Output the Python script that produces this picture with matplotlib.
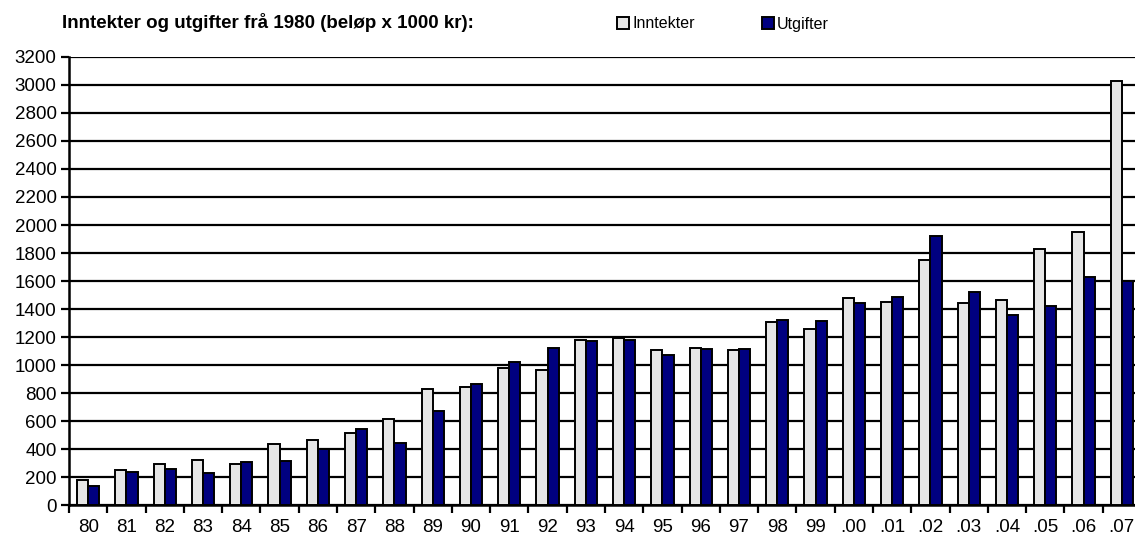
import matplotlib
matplotlib.use("Agg")
import matplotlib.pyplot as plt
import numpy as np

plt.rcParams["font.family"] = ["Liberation Sans", "DejaVu Sans"]

# ── data (beløp x 1000 kr) ────────────────────────────────────────────────────
years = ["80", "81", "82", "83", "84", "85", "86", "87", "88", "89",
         "90", "91", "92", "93", "94", "95", "96", "97", "98", "99",
         ".00", ".01", ".02", ".03", ".04", ".05", ".06", ".07"]
inntekter = [178, 252, 290, 319, 293, 436, 464, 517, 612, 826,
             843, 976, 962, 1179, 1195, 1105, 1124, 1110, 1310, 1255,
             1479, 1452, 1750, 1440, 1467, 1831, 1948, 3030]
utgifter = [136, 236, 260, 229, 305, 314, 402, 543, 440, 674,
            867, 1024, 1124, 1171, 1176, 1074, 1117, 1117, 1324, 1314,
            1445, 1483, 1921, 1521, 1357, 1424, 1631, 1600]

GREY = "#E6E6E6"
NAVY = "#000080"

W, H = 1135, 538
fig = plt.figure(figsize=(W / 100, H / 100), dpi=100)
# axes runs past the right edge, as in the original (last group is cut off)
ax = fig.add_axes([69 / W, 33 / H, (1141 - 69) / W, 448 / H])

x = np.arange(len(years))
bw = 0.29
b1 = ax.bar(x - bw / 2, inntekter, bw, color=GREY, edgecolor="black", lw=1.4,
            label="Inntekter", zorder=3)
b2 = ax.bar(x + bw / 2, utgifter, bw, color=NAVY, edgecolor="black", lw=1.4,
            label="Utgifter", zorder=3)

ax.set_xlim(-0.5, len(years) - 0.5)
ax.set_ylim(0, 3200)
ax.set_yticks(np.arange(0, 3201, 200))
ax.yaxis.grid(True, color="black", lw=1.6, zorder=1)
ax.set_axisbelow(True)

ax.set_xticks(x - 0.5)
ax.set_xticklabels([])
ax.set_xticks(x, minor=True)
ax.set_xticklabels(years, minor=True)
ax.tick_params(axis="x", which="major", length=6, width=1.6, direction="out")
ax.tick_params(axis="x", which="minor", length=0, pad=10, labelsize=13.5)
ax.tick_params(axis="y", length=6, width=1.6, direction="out", labelsize=13.5, pad=3)

for s in ["top", "right"]:
    ax.spines[s].set_visible(False)
for s in ["left", "bottom"]:
    ax.spines[s].set_linewidth(1.8)

fig.text(62 / W, 1 - 23 / H, "Inntekter og utgifter frå 1980 (beløp x 1000 kr):",
         fontsize=13.5, fontweight="bold", va="center", ha="left")

fig.legend(handles=[b1, b2], loc="center left", bbox_to_anchor=(617 / W, 1 - 24 / H),
           ncol=2, frameon=False, fontsize=11.5, handlelength=0.75, handleheight=0.75,
           handletextpad=0.2, columnspacing=4.2, borderaxespad=0, borderpad=0)

fig.savefig("out.png", dpi=100)
